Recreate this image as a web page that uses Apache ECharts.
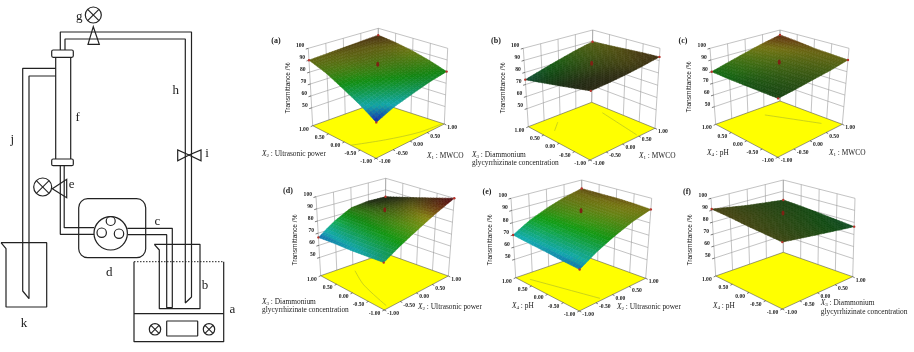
<!DOCTYPE html>
<html>
<head>
<meta charset="utf-8">
<title>Transmittance response surfaces</title>
<script src="https://cdn.jsdelivr.net/npm/echarts@6/dist/echarts.min.js"></script>
<style>
  html, body { margin: 0; padding: 0; background: #fff; }
  #main { width: 914px; height: 352px; filter: blur(0.45px); }
</style>
</head>
<body>
<div id="main"></div>
<script>
// values: transmittance at the -1,-0.5,0,0.5,1 tick crossings
// rows go front -> left edge, columns go front -> right edge
var surfaceA = [[63, 69, 73, 77, 80], [71, 75, 79, 82, 85], [78, 81, 84, 86, 89], [85, 87, 89, 90, 92], [90, 91, 92, 93, 94]];
var surfaceB = [[90, 90, 90.5, 91.5, 93], [86, 87.5, 88.5, 90.5, 92.5], [82, 84, 86.5, 89, 91.5], [78, 81, 84, 87.5, 90.5], [74, 78, 82, 86, 89.5]];
var surfaceC = [[81.5, 83, 85, 87, 90], [81, 83, 85.5, 88, 91], [80.5, 83, 86, 89, 92], [80, 83.5, 87, 90.5, 94], [80, 84, 88, 92, 95.5]];
var surfaceD = [[72, 79.5, 86.5, 93.5, 100], [70.5, 78.5, 85.5, 91.5, 96], [69, 77.5, 84, 89, 92], [68, 76.5, 83, 86.5, 88], [66.5, 76, 83, 84.5, 84]];
var surfaceE = [[67, 75, 81.5, 87, 91], [67.5, 75.5, 82, 88, 92], [68.5, 76, 83, 88.5, 92.5], [69, 77, 83.5, 89, 92.5], [70, 78, 84, 89, 92.6]];
var surfaceF = [[88.5, 85.5, 82.5, 79.5, 76.5], [89, 86, 83.5, 80.5, 78], [89.5, 87, 84.5, 82, 79.5], [90.5, 88, 85.5, 83, 81], [91, 88.5, 86, 84, 82]];
var centerPoints = [88, 90, 90, 92, 92, 90];

var panelNames = ['(a)', '(b)', '(c)', '(d)', '(e)', '(f)'];
var codedTicks = [-1, -0.5, 0, 0.5, 1];
var codedLabels = ['-1.00', '-0.50', '0.00', '0.50', '1.00'];
var zTicks = [50, 60, 70, 80, 90, 100];
var zTitle = 'Transmittance /%';
var leftFactors = [['2', ' : Ultrasonic power'], ['3', ' : Diammonium', 'glycyrrhizinate concentration'], ['4', ' : pH'], ['3', ' : Diammonium', 'glycyrrhizinate concentration'], ['4', ' : pH'], ['4', ' : pH']];
var rightFactors = [['1', ' : MWCO'], ['1', ' : MWCO'], ['1', ' : MWCO'], ['2', ' : Ultrasonic power'], ['2', ' : Ultrasonic power'], ['3', ' : Diammonium', 'glycyrrhizinate concentration']];
// faint contour traces on the yellow floor, in coded units
var floorContours = [
  [[[-1, -0.2], [-0.3, -0.55], [0.4, -0.85], [1, -0.95]]],
  [[[0.515, -0.92], [0.77, 0.43]], [[-0.31, 0.755], [-0.67, 0.49]]],
  [[[0.2, 0.66], [0.75, -0.59]]],
  [[[-0.2, 0.73], [-0.55, 0.1], [-0.84, -0.9]]],
  [[[-0.8, 0.76], [-0.3, -0.92]]],
  []
];

// schematic on the left, in picture pixels
var pipeLines = [
  [[60.3, 50], [60.3, 32], [191.5, 32], [191.5, 297], [185.3, 303], [185.3, 39], [65, 39], [65, 50]],
  [[55.7, 68.3], [22.7, 68.3], [22.7, 291], [29, 298.7], [29, 76], [55.7, 76]],
  [[55.7, 57.3], [55.7, 159]],
  [[70.7, 57.3], [70.7, 159]],
  [[60.3, 165.7], [60.3, 234.3], [94, 234.3]],
  [[64.2, 165.7], [64.2, 227.7], [94, 227.7]],
  [[127.3, 228.3], [172.3, 228.3], [172.3, 307.7]],
  [[128, 234.7], [166.7, 234.7], [166.7, 307.7], [172.3, 307.7]],
  [[1, 242.7], [46.7, 242.7], [46.7, 307], [6, 307], [6, 248.7], [1, 242.7]],
  [[154.3, 244.3], [200, 244.3], [200, 308.7], [159.3, 308.7], [159.3, 250], [154.3, 244.3]],
  [[134, 261.7], [134, 341.7], [223.7, 341.7], [223.7, 261.7]],
  [[134, 313.7], [223.7, 313.7]]
];
var dottedLines = [[[134, 261.7], [223.7, 261.7]]];
var roundBoxes = [[51.7, 50, 21.6, 7.3, 1.5], [51.7, 159, 21.6, 6.7, 1.5], [78.7, 198.7, 67, 59, 9], [166.7, 321, 31, 15, 0.5]];
var valveTriangles = [
  [[93.3, 26.7], [88, 44.3], [99.3, 44.3]],
  [[177.7, 150], [177.7, 160.7], [189, 155]],
  [[201, 150], [201, 160.7], [189, 155]],
  [[52.3, 188.7], [66.7, 179.3], [66.7, 197.7]]
];
var crossedCircles = [[93.3, 15, 8], [42.7, 187, 9], [155, 329.3, 5.7], [209, 329.3, 5.7]];
var plainCircles = [[110.7, 233.3, 16.7], [110.7, 221, 4.5], [101.7, 232.7, 4.7], [119, 233.7, 4.7]];
var diagramLetters = [['g', 79.3, 17], ['h', 175.7, 90.7], ['f', 77.7, 118], ['j', 12.3, 140], ['i', 207, 154], ['e', 71.7, 184.3], ['c', 157.3, 221.7], ['d', 109.3, 272.7], ['b', 205, 286], ['a', 232.3, 310], ['k', 24, 323.7]];

// where each 3d box sits on the page: corners front, right, left, back
var layout = [
  { floor: [[376, 158.3], [444.3, 124], [312.7, 125.7], [377.7, 102.3]], top: [[376.7, 75], [447.7, 48.3], [308.3, 48.3], [378.3, 28.3]], tag: [276, 41], zt: [287.7, 88], lt: [262, 154], rt: [427, 155.7] },
  { floor: [[590, 160], [655, 128.3], [528.3, 126.7], [591.7, 102.3]], top: [[591, 78.3], [660, 48.3], [523.3, 48.3], [592.7, 30]], tag: [496, 41], zt: [503.5, 88], lt: [472, 155], rt: [639, 155.7] },
  { floor: [[777.7, 157.3], [842.3, 124.3], [715.7, 124.3], [780, 101]], top: [[778.3, 75], [849, 48.3], [710, 48.3], [780, 30]], tag: [683, 41], zt: [689.5, 87], lt: [707, 153], rt: [829, 153] },
  { floor: [[384.3, 310], [448.3, 276], [320.7, 275.7], [385, 253.3]], top: [[383.3, 226.7], [454.3, 198.3], [316, 196.7], [385.7, 178.3]], tag: [288, 191], zt: [295.5, 240], lt: [262, 302], rt: [418, 306.7] },
  { floor: [[579.3, 311], [645.7, 278.3], [515.7, 277.7], [581.7, 255]], top: [[580, 226.7], [651.7, 198.3], [511, 198.3], [581.7, 180]], tag: [487, 191.7], zt: [490.5, 240], lt: [512, 305.7], rt: [617, 307] },
  { floor: [[782.3, 309], [852.7, 276.7], [715.7, 276], [783.3, 252.3]], top: [[782.3, 227.7], [855, 198.3], [711, 198.3], [783.3, 180]], tag: [687, 191.7], zt: [690, 240], lt: [713, 305.7], rt: [820.7, 303.3] }
];
var surfaces = [surfaceA, surfaceB, surfaceC, surfaceD, surfaceE, surfaceF];

var zFloor = 35;
var rampAt = [62, 70, 80, 91, 99];
var rampColors = [[0, 0, 255], [0, 255, 255], [0, 255, 0], [255, 255, 0], [255, 0, 0]];
var SERIF = '"Liberation Serif", "Times New Roman", serif';
var SANS = '"Liberation Sans", Arial, sans-serif';
var INK = '#222';
var WALL = '#9a9a9a';

function mix(a, b, t) { return a + (b - a) * t; }

function boxPoint(lay, u, v, z) {
  var a = (u + 1) / 2, b = (v + 1) / 2, w = (z - zFloor) / (100 - zFloor);
  function corner(c, k) {
    return mix(mix(c[0][k], c[1][k], a), mix(c[2][k], c[3][k], a), b);
  }
  return [mix(corner(lay.floor, 0), corner(lay.top, 0), w), mix(corner(lay.floor, 1), corner(lay.top, 1), w)];
}

// blue-cyan-green-yellow-red, as the design software colours its surfaces
function ramp(z) {
  var v = Math.max(rampAt[0], Math.min(rampAt[4], z));
  var i = 0;
  while (i < 3 && v > rampAt[i + 1]) i++;
  var t = (v - rampAt[i]) / (rampAt[i + 1] - rampAt[i]);
  var a = rampColors[i], b = rampColors[i + 1];
  return [mix(a[0], b[0], t), mix(a[1], b[1], t), mix(a[2], b[2], t)];
}

// the surface gets darker where it lies flat to the light
function nodeShade(m, j, i) {
  var gu = (m[j][Math.min(4, i + 1)] - m[j][Math.max(0, i - 1)]) / (Math.min(4, i + 1) - Math.max(0, i - 1));
  var gv = (m[Math.min(4, j + 1)][i] - m[Math.max(0, j - 1)][i]) / (Math.min(4, j + 1) - Math.max(0, j - 1));
  var s = 0.13 + 0.06 * Math.max(gu, 0) + 0.025 * Math.max(-gu, 0) + 0.03 * gv;
  return Math.max(0.1, Math.min(0.62, s));
}

function elLine(api, a, b, color, w) {
  var p = api.coord(a), q = api.coord(b);
  return { type: 'line', shape: { x1: p[0], y1: p[1], x2: q[0], y2: q[1] }, style: { stroke: color, lineWidth: w } };
}

function elText(api, text, at, opt) {
  var p = api.coord(at);
  return {
    type: 'text', x: p[0], y: p[1], rotation: opt.rotation || 0,
    style: {
      text: text, fontSize: opt.size, fontFamily: opt.family || SERIF, fontWeight: opt.weight || 'normal',
      fontStyle: opt.italic ? 'italic' : 'normal', fill: INK,
      align: opt.align || 'left', verticalAlign: 'middle', rich: opt.rich
    }
  };
}

function factorLabel(api, factor, at) {
  var size = 7.4;
  var rich = {
    x: { fontSize: size, fontStyle: 'italic', fontFamily: SERIF, fill: INK },
    s: { fontSize: 5, fontFamily: SERIF, fill: INK, padding: [3, 0, 0, 0] },
    n: { fontSize: size, fontFamily: SERIF, fill: INK }
  };
  var out = [elText(api, '{x|X}{s|' + factor[0] + '}{n|' + factor[1] + '}', at, { size: size, rich: rich })];
  if (factor[2]) out.push(elText(api, factor[2], [at[0], at[1] + 8.4], { size: size }));
  return out;
}

function renderFrame(k) {
  return function (params, api) {
    var lay = layout[k], kids = [];
    // back walls
    codedTicks.forEach(function (t) {
      kids.push(elLine(api, boxPoint(lay, t, 1, zFloor), boxPoint(lay, t, 1, 100), WALL, 0.6));
      kids.push(elLine(api, boxPoint(lay, 1, t, zFloor), boxPoint(lay, 1, t, 100), WALL, 0.6));
    });
    zTicks.forEach(function (z) {
      kids.push(elLine(api, boxPoint(lay, -1, 1, z), boxPoint(lay, 1, 1, z), WALL, 0.6));
      kids.push(elLine(api, boxPoint(lay, 1, 1, z), boxPoint(lay, 1, -1, z), WALL, 0.6));
      var e = boxPoint(lay, -1, 1, z);
      kids.push(elLine(api, e, [e[0] - 2.5, e[1] + 0.8], INK, 0.6));
      kids.push(elText(api, String(z), [e[0] - 4, e[1] - 2.6], { size: 5.6, weight: 'bold', align: 'right' }));
    });
    // yellow floor
    var poly = [lay.floor[0], lay.floor[1], lay.floor[3], lay.floor[2]].map(function (p) { return api.coord(p); });
    kids.push({ type: 'polygon', shape: { points: poly }, style: { fill: '#ffff00', stroke: '#555', lineWidth: 0.6 } });
    floorContours[k].forEach(function (trace) {
      var pts = trace.map(function (c) { return api.coord(boxPoint(lay, c[0], c[1], zFloor)); });
      kids.push({ type: 'polyline', shape: { points: pts, smooth: 0.3 }, style: { stroke: '#a8b52a', lineWidth: 0.6, fill: null } });
    });
    // floor ticks and labels
    codedTicks.forEach(function (t, n) {
      var a = boxPoint(lay, -1, t, zFloor);
      var b = boxPoint(lay, t, -1, zFloor);
      kids.push(elLine(api, a, [a[0] - 2, a[1] + 1], INK, 0.6));
      kids.push(elLine(api, b, [b[0] + 2, b[1] + 1], INK, 0.6));
      kids.push(elText(api, codedLabels[n], [a[0] - 4, a[1] + 3.6], { size: 5.6, weight: 'bold', align: 'right' }));
      kids.push(elText(api, codedLabels[n], [b[0] + 3, b[1] + 3.6], { size: 5.6, weight: 'bold' }));
    });
    kids.push(elText(api, panelNames[k], lay.tag, { size: 8, weight: 'bold', align: 'center' }));
    kids.push(elText(api, zTitle, lay.zt, { size: 6.6, family: SANS, align: 'center', rotation: Math.PI / 2 }));
    kids = kids.concat(factorLabel(api, leftFactors[k], lay.lt), factorLabel(api, rightFactors[k], lay.rt));
    return { type: 'group', children: kids };
  };
}

function renderCell(k) {
  var m = surfaces[k], lay = layout[k], STEPS = 6;
  return function (params, api) {
    var i = api.value(0), j = api.value(1), kids = [];
    var z00 = m[j][i], z10 = m[j][i + 1], z01 = m[j + 1][i], z11 = m[j + 1][i + 1];
    var s00 = nodeShade(m, j, i), s10 = nodeShade(m, j, i + 1), s01 = nodeShade(m, j + 1, i), s11 = nodeShade(m, j + 1, i + 1);
    function pt(a, b) {
      var z = mix(mix(z00, z10, a), mix(z01, z11, a), b);
      var u = mix(codedTicks[i], codedTicks[i + 1], a), v = mix(codedTicks[j], codedTicks[j + 1], b);
      return api.coord(boxPoint(lay, u, v, z));
    }
    // fine shading inside one cell of the read-off grid
    for (var b = STEPS - 1; b >= 0; b--) {
      for (var a = STEPS - 1; a >= 0; a--) {
        var ca = (a + 0.5) / STEPS, cb = (b + 0.5) / STEPS;
        var z = mix(mix(z00, z10, ca), mix(z01, z11, ca), cb);
        var s = mix(mix(s00, s10, ca), mix(s01, s11, ca), cb);
        if (z > 90) s *= 1 - 0.4 * (z - 90) / 10;
        var c = ramp(z);
        var col = 'rgb(' + Math.round(c[0] * s + 18) + ',' + Math.round(c[1] * s + 14) + ',' + Math.round(c[2] * s + 18) + ')';
        kids.push({
          type: 'polygon',
          shape: { points: [pt(a / STEPS, b / STEPS), pt((a + 1) / STEPS, b / STEPS), pt((a + 1) / STEPS, (b + 1) / STEPS), pt(a / STEPS, (b + 1) / STEPS)] },
          style: { fill: col, stroke: col, lineWidth: 0.5 }
        });
      }
    }
    return { type: 'group', children: kids };
  };
}

function renderMarks(k) {
  var m = surfaces[k], lay = layout[k];
  return function (params, api) {
    var kids = [];
    [[0, 0], [0, 4], [4, 0], [4, 4]].forEach(function (c) {
      var p = api.coord(boxPoint(lay, codedTicks[c[1]], codedTicks[c[0]], m[c[0]][c[1]]));
      kids.push({ type: 'circle', shape: { cx: p[0], cy: p[1], r: 1.2 }, style: { fill: '#b8332a' } });
    });
    var q = api.coord(boxPoint(lay, 0, 0, centerPoints[k]));
    kids.push({ type: 'circle', x: q[0], y: q[1], scaleY: 1.7, shape: { cx: 0, cy: 0, r: 1.5 }, style: { fill: '#7d2214' } });
    return { type: 'group', children: kids };
  };
}

function renderDiagramShapes(params, api) {
  var kids = [];
  roundBoxes.forEach(function (r) {
    var p = api.coord([r[0], r[1]]);
    kids.push({ type: 'rect', shape: { x: p[0], y: p[1], width: r[2], height: r[3], r: r[4] }, style: { fill: r[4] > 5 ? 'transparent' : '#fff', stroke: INK, lineWidth: 1.2 } });
  });
  valveTriangles.forEach(function (t) {
    kids.push({ type: 'polygon', shape: { points: t.map(function (p) { return api.coord(p); }) }, style: { fill: '#fff', stroke: INK, lineWidth: 1.2 } });
  });
  crossedCircles.forEach(function (c) {
    var p = api.coord([c[0], c[1]]), r = c[2], d = r * 0.707;
    kids.push({ type: 'circle', shape: { cx: p[0], cy: p[1], r: r }, style: { fill: '#fff', stroke: INK, lineWidth: 1.2 } });
    kids.push({ type: 'line', shape: { x1: p[0] - d, y1: p[1] - d, x2: p[0] + d, y2: p[1] + d }, style: { stroke: INK, lineWidth: 1.1 } });
    kids.push({ type: 'line', shape: { x1: p[0] - d, y1: p[1] + d, x2: p[0] + d, y2: p[1] - d }, style: { stroke: INK, lineWidth: 1.1 } });
  });
  plainCircles.forEach(function (c, n) {
    var p = api.coord([c[0], c[1]]);
    kids.push({ type: 'circle', shape: { cx: p[0], cy: p[1], r: c[2] }, style: { fill: n === 0 ? '#fff' : 'transparent', stroke: INK, lineWidth: 1.2 } });
  });
  diagramLetters.forEach(function (l) {
    kids.push(elText(api, l[0], [l[1], l[2]], { size: 13, align: 'center' }));
  });
  return { type: 'group', children: kids };
}

var series = [];
pipeLines.forEach(function (line) {
  series.push({ type: 'line', data: line, symbol: 'none', silent: true, lineStyle: { color: INK, width: 1.2 } });
});
dottedLines.forEach(function (line) {
  series.push({ type: 'line', data: line, symbol: 'none', silent: true, lineStyle: { color: INK, width: 1, type: [1.5, 1.5] } });
});
series.push({ type: 'custom', data: [[0]], renderItem: renderDiagramShapes, silent: true, z: 3 });

surfaces.forEach(function (m, k) {
  var cells = [];
  for (var j = 3; j >= 0; j--) {
    for (var i = 3; i >= 0; i--) cells.push([i, j]);
  }
  series.push({ type: 'custom', data: [[0]], renderItem: renderFrame(k), silent: true, z: 4 });
  series.push({ type: 'custom', data: cells, renderItem: renderCell(k), silent: true, z: 5 });
  series.push({ type: 'custom', data: [[0]], renderItem: renderMarks(k), silent: true, z: 6 });
});

var chart = echarts.init(document.getElementById('main'));
chart.setOption({
  animation: false,
  backgroundColor: '#fff',
  grid: { left: 0, top: 0, width: 914, height: 352 },
  xAxis: { type: 'value', min: 0, max: 914, show: false },
  yAxis: { type: 'value', min: 0, max: 352, inverse: true, show: false },
  series: series
});
</script>
</body>
</html>
